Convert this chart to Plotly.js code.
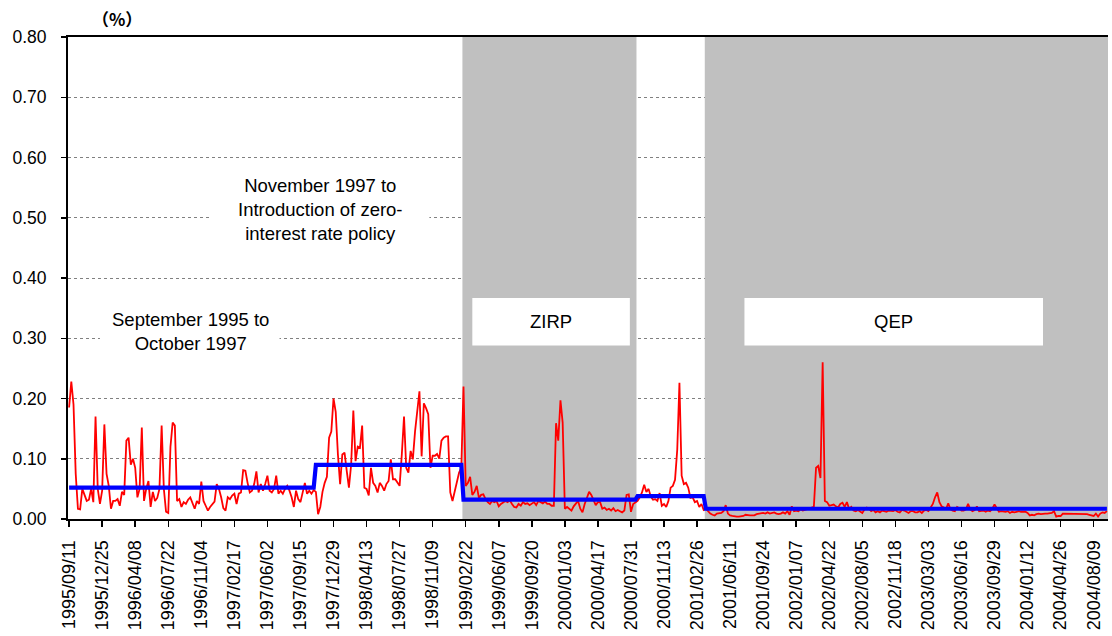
<!DOCTYPE html>
<html>
<head>
<meta charset="utf-8">
<script src="https://cdn.plot.ly/plotly-3.0.1.min.js"></script>
<style>html,body{margin:0;padding:0;background:#fff;}#chart{width:1112px;height:636px;}</style>
</head>
<body>
<div id="chart"></div>
<script>
// Weekly series start date (first category)
var startDate = [1995, 9, 11];
var weekCount = 472;

// Tick labels shown on the category axis (every 15 weeks)
var tickLabels = ["1995/09/11","1995/12/25","1996/04/08","1996/07/22","1996/11/04","1997/02/17","1997/06/02","1997/09/15","1997/12/29","1998/04/13","1998/07/27","1998/11/09","1999/02/22","1999/06/07","1999/09/20","2000/01/03","2000/04/17","2000/07/31","2000/11/13","2001/02/26","2001/06/11","2001/09/24","2002/01/07","2002/04/22","2002/08/05","2002/11/18","2003/03/03","2003/06/16","2003/09/29","2004/01/12","2004/04/26","2004/08/09"];

// Weekly rate (%) — red line
var weeklyRate = [
0.185,0.228,0.19,0.075,0.017,0.016,0.05,0.04,0.03,0.032,0.05,0.028,0.17,0.05,0.025,
0.047,0.157,0.075,0.055,0.017,0.03,0.03,0.033,0.022,0.045,0.04,0.13,0.135,0.09,0.10,
0.085,0.036,0.05,0.152,0.03,0.05,0.063,0.02,0.045,0.03,0.035,0.05,0.155,0.05,0.012,
0.01,0.12,0.16,0.155,0.03,0.033,0.02,0.028,0.025,0.032,0.036,0.025,0.017,0.03,0.025,
0.062,0.03,0.022,0.014,0.02,0.025,0.029,0.058,0.05,0.036,0.018,0.014,0.036,0.033,0.039,
0.042,0.025,0.042,0.044,0.081,0.08,0.06,0.044,0.047,0.058,0.079,0.044,0.058,0.047,0.058,
0.072,0.047,0.044,0.05,0.072,0.042,0.047,0.042,0.05,0.055,0.047,0.036,0.02,0.047,0.033,
0.028,0.042,0.06,0.042,0.047,0.042,0.048,0.045,0.008,0.02,0.045,0.06,0.07,0.135,0.145,
0.2,0.178,0.107,0.058,0.107,0.11,0.08,0.052,0.09,0.18,0.096,0.12,0.118,0.155,0.052,
0.05,0.039,0.085,0.06,0.055,0.044,0.06,0.055,0.047,0.058,0.063,0.099,0.066,0.066,0.06,
0.055,0.107,0.17,0.085,0.077,0.113,0.099,0.145,0.178,0.212,0.104,0.192,0.184,0.174,0.085,
0.105,0.105,0.108,0.1,0.13,0.135,0.137,0.137,0.044,0.03,0.045,0.06,0.077,0.085,0.22,
0.055,0.06,0.07,0.04,0.045,0.055,0.035,0.04,0.041,0.033,0.028,0.025,0.03,0.028,0.03,
0.021,0.025,0.028,0.03,0.028,0.031,0.025,0.02,0.019,0.025,0.022,0.028,0.025,0.026,0.023,
0.025,0.028,0.023,0.03,0.028,0.026,0.029,0.025,0.025,0.022,0.022,0.159,0.13,0.197,0.16,
0.017,0.02,0.017,0.014,0.021,0.025,0.03,0.017,0.011,0.025,0.036,0.045,0.04,0.03,0.023,
0.028,0.028,0.017,0.019,0.015,0.017,0.014,0.018,0.013,0.015,0.013,0.011,0.014,0.04,0.041,
0.012,0.025,0.028,0.03,0.036,0.044,0.057,0.045,0.05,0.037,0.032,0.033,0.03,0.043,0.022,
0.025,0.02,0.03,0.052,0.055,0.065,0.115,0.226,0.072,0.058,0.06,0.052,0.035,0.036,0.028,
0.03,0.02,0.025,0.015,0.017,0.013,0.009,0.007,0.006,0.009,0.009,0.01,0.013,0.023,0.009,
0.006,0.005,0.004,0.004,0.004,0.004,0.005,0.007,0.006,0.006,0.006,0.006,0.008,0.009,0.009,
0.01,0.009,0.011,0.009,0.01,0.011,0.009,0.008,0.009,0.011,0.009,0.013,0.007,0.021,0.013,
0.014,0.013,0.016,0.014,0.015,0.017,0.017,0.018,0.02,0.085,0.088,0.068,0.26,0.03,0.028,
0.022,0.023,0.024,0.021,0.019,0.025,0.027,0.02,0.028,0.017,0.02,0.014,0.013,0.015,0.012,
0.01,0.016,0.019,0.017,0.013,0.015,0.011,0.013,0.011,0.014,0.013,0.012,0.014,0.013,0.013,
0.015,0.012,0.011,0.015,0.014,0.012,0.01,0.013,0.013,0.011,0.011,0.013,0.01,0.014,0.015,
0.013,0.02,0.025,0.036,0.044,0.028,0.021,0.019,0.017,0.026,0.016,0.014,0.013,0.02,0.018,
0.014,0.014,0.016,0.025,0.016,0.013,0.015,0.021,0.013,0.013,0.014,0.012,0.014,0.013,0.017,
0.024,0.018,0.012,0.013,0.012,0.012,0.013,0.01,0.012,0.011,0.012,0.013,0.012,0.012,0.012,
0.01,0.006,0.007,0.006,0.008,0.009,0.008,0.009,0.009,0.009,0.009,0.01,0.013,0.004,0.005,
0.005,0.009,0.009,0.008,0.009,0.009,0.008,0.009,0.008,0.009,0.008,0.009,0.008,0.007,0.006,
0.005,0.009,0.004,0.009,0.011,0.01,0.013
];

// Period averages (blue line): first week index of each period and its average
var periodStartWeek = [0, 112, 179, 258, 289];
var periodAverage = [0.052, 0.090, 0.032, 0.038, 0.017];

// Shaded policy periods (first and last week index)
var shadedPeriods = [[179, 257], [289, 471]];

// Text labels
var periodLabels = [
  {text: "September 1995 to<br>October 1997", x: 55, y: 0.311},
  {text: "November 1997 to<br>Introduction of zero-<br>interest rate policy", x: 114, y: 0.514},
  {text: "ZIRP", x: 218.5, y: 0.327},
  {text: "QEP", x: 374, y: 0.327}
];
var labelBoxes = [
  [14, 95.5, 0.27, 0.356],
  [63.5, 163.5, 0.452, 0.58],
  [183, 254.5, 0.288, 0.367],
  [306.5, 442, 0.288, 0.367]
];

function pad(n){ return (n < 10 ? "0" : "") + n; }
var t0 = Date.UTC(startDate[0], startDate[1]-1, startDate[2]);
var weeks = [];
for (var i = 0; i < weekCount; i++) {
  var d = new Date(t0 + i*7*86400000);
  weeks.push(d.getUTCFullYear() + "/" + pad(d.getUTCMonth()+1) + "/" + pad(d.getUTCDate()));
}
var avgLine = weeks.map(function(_, i){
  var v = periodAverage[0];
  for (var k = 0; k < periodStartWeek.length; k++) if (i >= periodStartWeek[k]) v = periodAverage[k];
  return v;
});

var font = "Liberation Sans, Arial, sans-serif";
var shapes = [];
shadedPeriods.forEach(function(p){
  shapes.push({type:"rect", xref:"x", yref:"y", x0:p[0]-0.5, x1:p[1]+0.5, y0:0, y1:0.8,
    fillcolor:"#c0c0c0", line:{width:0}, layer:"between"});
});
labelBoxes.forEach(function(b){
  shapes.push({type:"rect", xref:"x", yref:"y", x0:b[0], x1:b[1], y0:b[2], y1:b[3],
    fillcolor:"#ffffff", line:{width:0}, layer:"between"});
});

var annotations = periodLabels.map(function(l){
  return {text:l.text, x:l.x, y:l.y, xref:"x", yref:"y", showarrow:false,
    xanchor:"center", yanchor:"middle", align:"center",
    font:{family:font, size:18.5, color:"#000"}};
});
annotations.push({text:"（%）", xref:"paper", yref:"paper", x:0.047, y:1.039,
  showarrow:false, xanchor:"center", yanchor:"middle",
  font:{family:"Noto Sans CJK JP, sans-serif", size:17, color:"#000", weight:"bold"}});

var traces = [
  {x: weeks, y: weeklyRate, type:"scatter", mode:"lines",
   line:{color:"#ff0000", width:1.8}, hoverinfo:"skip"},
  {x: weeks, y: avgLine, type:"scatter", mode:"lines",
   line:{color:"#0000ff", width:4.2}, hoverinfo:"skip"}
];

var layout = {
  width:1112, height:636,
  margin:{l:68, r:4, t:37, b:117},
  paper_bgcolor:"#fff", plot_bgcolor:"#fff",
  showlegend:false,
  xaxis:{type:"category", range:[-0.5, weekCount-0.5], tickvals:tickLabels, ticktext:tickLabels,
    tickangle:-90, ticks:"outside", ticklen:6, tickwidth:1.5, tickcolor:"#000",
    showline:true, linecolor:"#000", linewidth:2, mirror:true, showgrid:false,
    ticklabelstandoff:6,
    tickfont:{family:font, size:18, color:"#000"}, fixedrange:true},
  yaxis:{range:[0, 0.8], dtick:0.1, tick0:0, tickformat:".2f", ticks:"outside", ticklen:5,
    tickwidth:1.5, tickcolor:"#000", showline:true, linecolor:"#000", linewidth:2,
    showgrid:true, gridcolor:"#808080", griddash:"dot", gridwidth:1, zeroline:false,
    ticklabelstandoff:11,
    tickfont:{family:font, size:17.5, color:"#000"}, fixedrange:true},
  shapes:shapes,
  annotations:annotations
};

Plotly.newPlot("chart", traces, layout, {staticPlot:true, displayModeBar:false});
</script>
</body>
</html>
